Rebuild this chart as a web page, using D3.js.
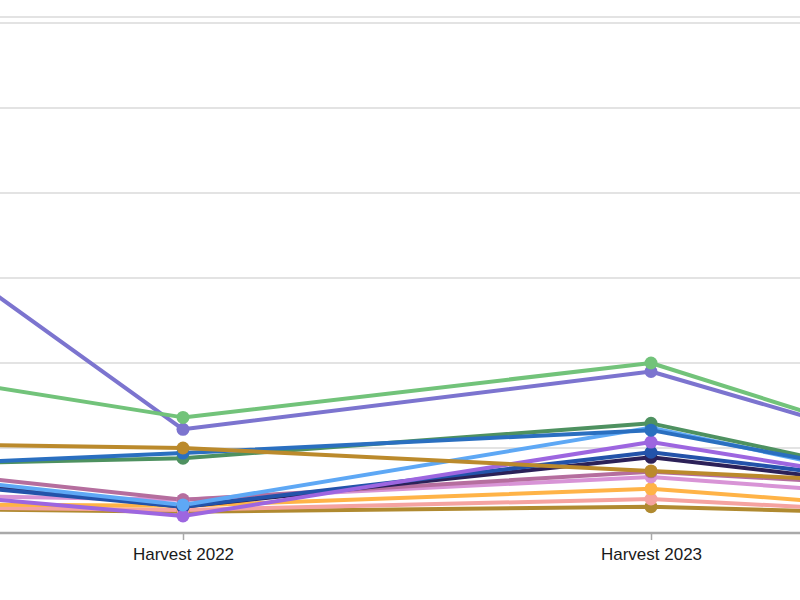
<!DOCTYPE html>
<html>
<head>
<meta charset="utf-8">
<script src="https://cdn.jsdelivr.net/npm/d3@7"></script>
<style>
  html, body { margin: 0; padding: 0; background: #fff; overflow: hidden; }
  svg { display: block; }
</style>
</head>
<body>
<svg id="chart" width="800" height="600"></svg>
<script>
// ---- data ----
const categories = ["Harvest 2021", "Harvest 2022", "Harvest 2023", "Harvest 2024"];
const seriesNames = ["Lot A", "Lot B", "Lot C", "Lot D", "Lot E", "Lot F", "Lot G",
                     "Lot H", "Lot I", "Lot J", "Lot K", "Lot L", "Lot M", "Lot N"];
const lotA = [11.2, 6.8, 10.0, 1.3];
const lotB = [25.9, 6.1, 9.5, 1.5];
const lotC = [5.4, 5.0, 3.65, 2.35];
const lotD = [3.5, 4.7, 6.05, 0.9];
const lotE = [3.8, 4.4, 6.45, 0.55];
const lotF = [4.65, 1.65, 6.2, 0.3];
const lotG = [3.4, 1.0, 5.35, 0.9];
const lotH = [4.1, 1.55, 4.75, 1.45];
const lotI = [4.4, 1.55, 4.45, 1.3];
const lotJ = [4.95, 1.95, 3.6, 2.1];
const lotK = [2.4, 1.95, 3.3, 1.25];
const lotL = [1.75, 1.6, 2.6, 0.55];
const lotM = [1.65, 1.35, 2.0, 0.55];
const lotN = [1.55, 1.25, 1.55, 0.8];
const seriesValues = [lotA, lotB, lotC, lotD, lotE, lotF, lotG, lotH, lotI, lotJ, lotK, lotL, lotM, lotN];
const colors = ["#72c37a", "#7c74cf", "#bb8a2c", "#2a6fc0", "#4e9160", "#5ea8f5", "#9d66e0",
                "#2353aa", "#2c2158", "#b56e9e", "#d894d6", "#ffb347", "#f5a3a0", "#b08a30"];
const gridValues = [0, 5, 10, 15, 20, 25, 30];

// ---- layout ----
const W = 800;
const svg = d3.select("#chart");
const plotTop = 17, plotBottom = 533;

const x = d3.scalePoint().domain(categories).range([-285, 1119]);
const y = d3.scaleLinear().domain([0, 30]).range([plotBottom, 23]);

// grid
svg.append("line")
  .attr("x1", 0).attr("x2", W)
  .attr("y1", plotTop).attr("y2", plotTop)
  .attr("stroke", "#e3e3e3").attr("stroke-width", 2);
svg.append("g").selectAll("line")
  .data(gridValues.filter(v => v > 0))
  .join("line")
  .attr("x1", 0).attr("x2", W)
  .attr("y1", d => y(d)).attr("y2", d => y(d))
  .attr("stroke", "#e3e3e3").attr("stroke-width", 2);

// x axis (only the categories that fall inside the visible window get a tick)
const visibleCats = categories.filter(c => x(c) >= 0 && x(c) <= W);
const xAxis = svg.append("g")
  .attr("transform", `translate(0,${plotBottom})`)
  .call(d3.axisBottom(x).tickValues(visibleCats).tickSize(7).tickPadding(8));
xAxis.select(".domain").remove();
xAxis.append("line").attr("x1", 0).attr("x2", W).attr("y1", 0).attr("y2", 0)
  .attr("stroke", "#a9a9a9").attr("stroke-width", 2.5);
xAxis.selectAll(".tick line").attr("stroke", "#a9a9a9").attr("stroke-width", 1.5);
xAxis.selectAll(".tick text")
  .attr("fill", "#1a1a1a")
  .style("font-family", "'Liberation Sans', Arial, sans-serif")
  .style("font-size", "17px");

// lines
const line = d3.line().x((d, i) => x(categories[i])).y(d => y(d));
const data = seriesNames.map((n, i) => ({ name: n, values: seriesValues[i], color: colors[i] }));

const order = [...data].reverse();
svg.append("g").selectAll("path")
  .data(order)
  .join("path")
  .attr("d", d => line(d.values))
  .attr("fill", "none")
  .attr("stroke", d => d.color)
  .attr("stroke-width", 4)
  .attr("stroke-linejoin", "round");

const dots = svg.append("g");
order.forEach(s => {
  dots.selectAll(null)
    .data(s.values)
    .join("circle")
    .attr("cx", (d, i) => x(categories[i]))
    .attr("cy", d => y(d))
    .attr("r", 6.5)
    .attr("fill", s.color);
});
</script>
</body>
</html>
